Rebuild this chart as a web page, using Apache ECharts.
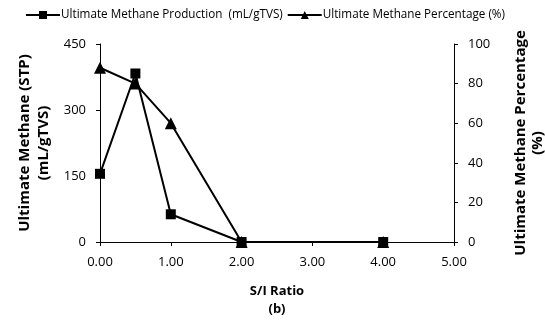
<!DOCTYPE html>
<html>
<head>
<meta charset="utf-8">
<script src="https://cdn.jsdelivr.net/npm/echarts@6/dist/echarts.min.js"></script>
<style>
  html, body { margin: 0; padding: 0; background: #fff; }
  #chart { width: 545px; height: 321px; }
</style>
</head>
<body>
<div id="chart"></div>
<script>
// S/I ratio values on the x axis
const ratios = [0, 0.5, 1, 2, 4];
// Ultimate methane production, mL/gTVS (left axis)
const production = [155, 383, 63, 0, 0];
// Ultimate methane percentage, % (right axis)
const percentage = [88, 80, 60, 0, 0];

const FONT = 'Open Sans';
const chart = echarts.init(document.getElementById('chart'));

const titleStyle = { fontFamily: FONT, fontWeight: 'bold', fontSize: 15, lineHeight: 19, color: '#000' };

chart.setOption({
  animation: false,
  backgroundColor: '#fff',
  textStyle: { fontFamily: FONT, color: '#000' },
  legend: {
    top: 4,
    left: 20,
    itemGap: 4,
    itemWidth: 34,
    itemHeight: 10,
    textStyle: { fontFamily: FONT, fontSize: 11.7, color: '#000', padding: [0, 0, 0, -4] },
    data: ['Ultimate Methane Production  (mL/gTVS)', 'Ultimate Methane Percentage (%)']
  },
  grid: { left: 100, right: 91, top: 44, bottom: 79, containLabel: false, outerBoundsMode: 'none' },
  xAxis: {
    type: 'value',
    min: 0, max: 5, interval: 1,
    name: 'S/I Ratio\n(b)',
    nameLocation: 'middle',
    nameGap: 40,
    nameTextStyle: { fontFamily: FONT, fontWeight: 'bold', fontSize: 13, lineHeight: 18, color: '#000' },
    axisLine: { lineStyle: { color: '#000', width: 1 } },
    axisTick: { length: 4, lineStyle: { color: '#000' } },
    splitLine: { show: false },
    axisLabel: { fontSize: 13, color: '#000', margin: 14, formatter: v => v.toFixed(2) }
  },
  yAxis: [
    {
      type: 'value',
      min: 0, max: 450, interval: 150,
      name: 'Ultimate Methane (STP)\n(mL/gTVS)',
      nameLocation: 'middle',
      nameRotate: 90,
      nameGap: 35,
      nameTextStyle: titleStyle,
      axisLine: { show: true, lineStyle: { color: '#000', width: 1 } },
      axisTick: { show: true, length: 4, lineStyle: { color: '#000' } },
      splitLine: { show: false },
      axisLabel: { fontSize: 13, color: '#000', margin: 14 }
    },
    {
      type: 'value',
      min: 0, max: 100, interval: 20,
      position: 'right',
      name: 'Ultimate Methane Percentage\n(%)',
      nameLocation: 'middle',
      nameRotate: 90,
      nameGap: 58,
      nameTextStyle: { ...titleStyle, lineHeight: 17 },
      axisLine: { show: true, lineStyle: { color: '#000', width: 1 } },
      axisTick: { show: true, length: 4, lineStyle: { color: '#000' } },
      splitLine: { show: false },
      axisLabel: { fontSize: 13, color: '#000', margin: 14 }
    }
  ],
  series: [
    {
      name: 'Ultimate Methane Production  (mL/gTVS)',
      type: 'line',
      yAxisIndex: 0,
      data: ratios.map((x, i) => [x, production[i]]),
      symbol: 'rect',
      symbolSize: 10,
      lineStyle: { color: '#000', width: 2 },
      itemStyle: { color: '#000' },
      z: 3
    },
    {
      name: 'Ultimate Methane Percentage (%)',
      type: 'line',
      yAxisIndex: 1,
      data: ratios.map((x, i) => [x, percentage[i]]),
      symbol: 'triangle',
      symbolSize: 12,
      lineStyle: { color: '#000', width: 2 },
      itemStyle: { color: '#000' },
      z: 2
    }
  ]
});
</script>
</body>
</html>
